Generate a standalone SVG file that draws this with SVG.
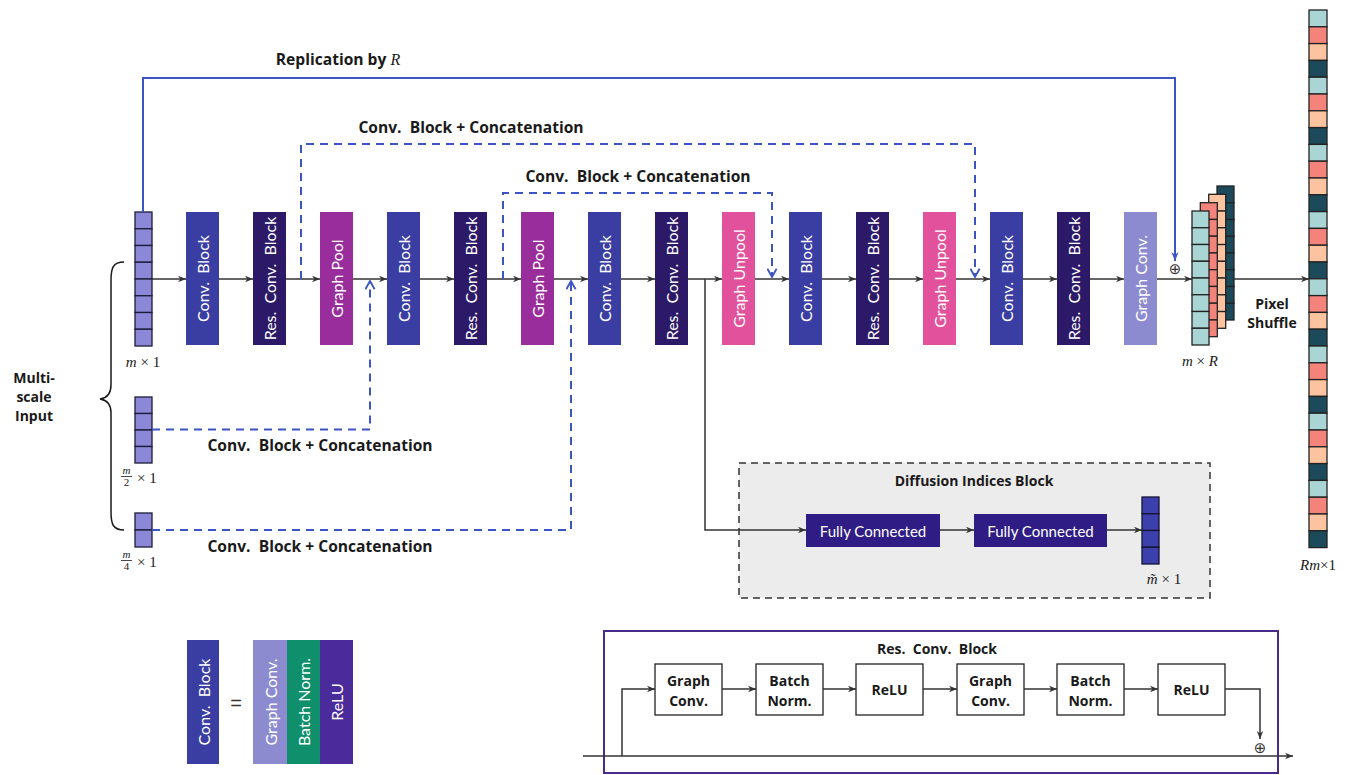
<svg xmlns="http://www.w3.org/2000/svg" width="1358" height="775" viewBox="0 0 1358 775">
<style>
.bt{font-family:Lato,"Liberation Sans",sans-serif;font-size:16px;fill:#fff;text-anchor:middle;dominant-baseline:central}
.ft{font-family:Lato,"Liberation Sans",sans-serif;font-size:15px;fill:#fff;text-anchor:middle;dominant-baseline:central}
.lb{font-family:"Open Sans","Liberation Sans",sans-serif;font-size:14px;font-weight:bold;fill:#1a1a1a;text-anchor:middle}
.cl{font-size:15.6px}
.bx{font-family:"Open Sans","Liberation Sans",sans-serif;font-size:14px;font-weight:bold;fill:#1a1a1a;text-anchor:middle}
.mt{font-family:"Liberation Serif",serif;font-size:15px;fill:#1a1a1a}
.mi{font-style:italic}
.fr{font-size:11px;text-anchor:middle}
.conv{fill:#3a3ea2}
.res{fill:#2c1a69}
.pool{fill:#9a2d9c}
.unpool{fill:#e2519b}
.gconv{fill:#8c8bd0}
.bn{fill:#0f8f6c}
.relu{fill:#4b2a9c}
.cin{fill:#8b88d8;stroke:#1c1c3a;stroke-width:1.3}
.cdi{fill:#3b40ac;stroke:#151530;stroke-width:1.3}
.c1{fill:#a9d5d4;stroke:#222;stroke-width:1.3}
.c2{fill:#f4837b;stroke:#222;stroke-width:1.3}
.c3{fill:#fcc3a1;stroke:#222;stroke-width:1.3}
.c4{fill:#1c4a5b;stroke:#222;stroke-width:1.3}
.ar{fill:none;stroke:#333;stroke-width:1.5;marker-end:url(#ah)}
.bl{fill:none;stroke:#3d55c4;stroke-width:2}
.bd{fill:none;stroke:#3d55c4;stroke-width:2;stroke-dasharray:8 6;marker-end:url(#bh)}
.sb{fill:#fff;stroke:#222;stroke-width:1.3}
</style>
<defs>
<marker id="ah" viewBox="0 0 10 10" refX="10" refY="5" markerWidth="8" markerHeight="8" orient="auto" markerUnits="userSpaceOnUse"><path d="M0,1 L10,5 L0,9 L3,5 z" fill="#333"/></marker>
<marker id="bh" viewBox="0 0 12 12" refX="11" refY="6" markerWidth="11" markerHeight="11" orient="auto" markerUnits="userSpaceOnUse"><path d="M2,1 L11,6 L2,11" fill="none" stroke="#3d55c4" stroke-width="2"/></marker>
<marker id="bs" viewBox="0 0 10 10" refX="10" refY="5" markerWidth="9" markerHeight="9" orient="auto" markerUnits="userSpaceOnUse"><path d="M0,1 L10,5 L0,9 L3,5 z" fill="#3d55c4"/></marker>
</defs>
<rect width="1358" height="775" fill="#fff"/>

<!-- inputs -->
<g id="input-m">
<rect class="cin" x="135" y="212" width="17" height="16.75"/><rect class="cin" x="135" y="228.75" width="17" height="16.75"/><rect class="cin" x="135" y="245.5" width="17" height="16.75"/><rect class="cin" x="135" y="262.25" width="17" height="16.75"/><rect class="cin" x="135" y="279" width="17" height="16.75"/><rect class="cin" x="135" y="295.75" width="17" height="16.75"/><rect class="cin" x="135" y="312.5" width="17" height="16.75"/><rect class="cin" x="135" y="329.25" width="17" height="16.75"/>
<text class="mt" x="143" y="367" text-anchor="middle"><tspan class="mi">m</tspan> × 1</text>
</g>
<g id="input-m2">
<rect class="cin" x="135" y="397" width="17" height="16.5"/><rect class="cin" x="135" y="413.5" width="17" height="16.5"/><rect class="cin" x="135" y="430" width="17" height="16.5"/><rect class="cin" x="135" y="446.5" width="17" height="16.5"/>
<line x1="121" y1="476.5" x2="132" y2="476.5" stroke="#1a1a1a" stroke-width="0.8"/>
<text class="mt"><tspan class="mi fr" x="126.5" y="474">m</tspan><tspan class="fr" x="126.5" y="486">2</tspan><tspan x="137" y="483">× 1</tspan></text>
</g>
<g id="input-m4">
<rect class="cin" x="135" y="513" width="17" height="17"/><rect class="cin" x="135" y="530" width="17" height="17"/>
<line x1="121" y1="560.5" x2="132" y2="560.5" stroke="#1a1a1a" stroke-width="0.8"/>
<text class="mt"><tspan class="mi fr" x="126.5" y="558">m</tspan><tspan class="fr" x="126.5" y="570">4</tspan><tspan x="137" y="567">× 1</tspan></text>
</g>
<g id="brace">
<path d="M124,262 C113,262 111,268 111,280 L111,385 C111,394 107,398 100,399 C107,400 111,404 111,413 L111,512 C111,524 113,530 124,530" fill="none" stroke="#1a1a1a" stroke-width="1.5"/>
<text class="lb" x="34" y="383">Multi-</text>
<text class="lb" x="34" y="402">scale</text>
<text class="lb" x="34" y="421">Input</text>
</g>

<!-- main blocks -->
<g id="b1"><rect class="conv" x="186" y="212" width="33" height="133"/><text class="bt" transform="translate(202.5,278.5) rotate(-90)">Conv.&#160; Block</text></g>
<g id="b2"><rect class="res" x="253" y="212" width="33" height="133"/><text class="bt" transform="translate(269.5,278.5) rotate(-90)">Res.&#160; Conv.&#160; Block</text></g>
<g id="b3"><rect class="pool" x="320" y="212" width="33" height="133"/><text class="bt" transform="translate(336.5,278.5) rotate(-90)">Graph Pool</text></g>
<g id="b4"><rect class="conv" x="387" y="212" width="33" height="133"/><text class="bt" transform="translate(403.5,278.5) rotate(-90)">Conv.&#160; Block</text></g>
<g id="b5"><rect class="res" x="454" y="212" width="33" height="133"/><text class="bt" transform="translate(470.5,278.5) rotate(-90)">Res.&#160; Conv.&#160; Block</text></g>
<g id="b6"><rect class="pool" x="521" y="212" width="33" height="133"/><text class="bt" transform="translate(537.5,278.5) rotate(-90)">Graph Pool</text></g>
<g id="b7"><rect class="conv" x="588" y="212" width="33" height="133"/><text class="bt" transform="translate(604.5,278.5) rotate(-90)">Conv.&#160; Block</text></g>
<g id="b8"><rect class="res" x="655" y="212" width="33" height="133"/><text class="bt" transform="translate(671.5,278.5) rotate(-90)">Res.&#160; Conv.&#160; Block</text></g>
<g id="b9"><rect class="unpool" x="722" y="212" width="33" height="133"/><text class="bt" transform="translate(738.5,278.5) rotate(-90)">Graph Unpool</text></g>
<g id="b10"><rect class="conv" x="789" y="212" width="33" height="133"/><text class="bt" transform="translate(805.5,278.5) rotate(-90)">Conv.&#160; Block</text></g>
<g id="b11"><rect class="res" x="856" y="212" width="33" height="133"/><text class="bt" transform="translate(872.5,278.5) rotate(-90)">Res.&#160; Conv.&#160; Block</text></g>
<g id="b12"><rect class="unpool" x="923" y="212" width="33" height="133"/><text class="bt" transform="translate(939.5,278.5) rotate(-90)">Graph Unpool</text></g>
<g id="b13"><rect class="conv" x="990" y="212" width="33" height="133"/><text class="bt" transform="translate(1006.5,278.5) rotate(-90)">Conv.&#160; Block</text></g>
<g id="b14"><rect class="res" x="1057" y="212" width="33" height="133"/><text class="bt" transform="translate(1073.5,278.5) rotate(-90)">Res.&#160; Conv.&#160; Block</text></g>
<g id="b15"><rect class="gconv" x="1124" y="212" width="33" height="133"/><text class="bt" transform="translate(1140.5,278.5) rotate(-90)">Graph Conv.</text></g>

<!-- output stack m x R -->
<g id="stack">
<g transform="translate(25,-25)"><rect class="c4" x="1192" y="211" width="17" height="16.75"/><rect class="c4" x="1192" y="227.75" width="17" height="16.75"/><rect class="c4" x="1192" y="244.5" width="17" height="16.75"/><rect class="c4" x="1192" y="261.25" width="17" height="16.75"/><rect class="c4" x="1192" y="278" width="17" height="16.75"/><rect class="c4" x="1192" y="294.75" width="17" height="16.75"/><rect class="c4" x="1192" y="311.5" width="17" height="16.75"/><rect class="c4" x="1192" y="328.25" width="17" height="16.75"/></g>
<g transform="translate(16.7,-16.7)"><rect class="c3" x="1192" y="211" width="17" height="16.75"/><rect class="c3" x="1192" y="227.75" width="17" height="16.75"/><rect class="c3" x="1192" y="244.5" width="17" height="16.75"/><rect class="c3" x="1192" y="261.25" width="17" height="16.75"/><rect class="c3" x="1192" y="278" width="17" height="16.75"/><rect class="c3" x="1192" y="294.75" width="17" height="16.75"/><rect class="c3" x="1192" y="311.5" width="17" height="16.75"/><rect class="c3" x="1192" y="328.25" width="17" height="16.75"/></g>
<g transform="translate(8.3,-8.3)"><rect class="c2" x="1192" y="211" width="17" height="16.75"/><rect class="c2" x="1192" y="227.75" width="17" height="16.75"/><rect class="c2" x="1192" y="244.5" width="17" height="16.75"/><rect class="c2" x="1192" y="261.25" width="17" height="16.75"/><rect class="c2" x="1192" y="278" width="17" height="16.75"/><rect class="c2" x="1192" y="294.75" width="17" height="16.75"/><rect class="c2" x="1192" y="311.5" width="17" height="16.75"/><rect class="c2" x="1192" y="328.25" width="17" height="16.75"/></g>
<g><rect class="c1" x="1192" y="211" width="17" height="16.75"/><rect class="c1" x="1192" y="227.75" width="17" height="16.75"/><rect class="c1" x="1192" y="244.5" width="17" height="16.75"/><rect class="c1" x="1192" y="261.25" width="17" height="16.75"/><rect class="c1" x="1192" y="278" width="17" height="16.75"/><rect class="c1" x="1192" y="294.75" width="17" height="16.75"/><rect class="c1" x="1192" y="311.5" width="17" height="16.75"/><rect class="c1" x="1192" y="328.25" width="17" height="16.75"/></g>
<text class="mt" x="1200" y="366" text-anchor="middle"><tspan class="mi">m</tspan> × <tspan class="mi">R</tspan></text>
</g>

<!-- output column Rm x 1 -->
<g id="output">
<rect class="c1" x="1309" y="10" width="18" height="16.8"/><rect class="c2" x="1309" y="26.8" width="18" height="16.8"/><rect class="c3" x="1309" y="43.6" width="18" height="16.8"/><rect class="c4" x="1309" y="60.4" width="18" height="16.8"/>
<rect class="c1" x="1309" y="77.2" width="18" height="16.8"/><rect class="c2" x="1309" y="94" width="18" height="16.8"/><rect class="c3" x="1309" y="110.8" width="18" height="16.8"/><rect class="c4" x="1309" y="127.6" width="18" height="16.8"/>
<rect class="c1" x="1309" y="144.4" width="18" height="16.8"/><rect class="c2" x="1309" y="161.2" width="18" height="16.8"/><rect class="c3" x="1309" y="178" width="18" height="16.8"/><rect class="c4" x="1309" y="194.8" width="18" height="16.8"/>
<rect class="c1" x="1309" y="211.6" width="18" height="16.8"/><rect class="c2" x="1309" y="228.4" width="18" height="16.8"/><rect class="c3" x="1309" y="245.2" width="18" height="16.8"/><rect class="c4" x="1309" y="262" width="18" height="16.8"/>
<rect class="c1" x="1309" y="278.8" width="18" height="16.8"/><rect class="c2" x="1309" y="295.6" width="18" height="16.8"/><rect class="c3" x="1309" y="312.4" width="18" height="16.8"/><rect class="c4" x="1309" y="329.2" width="18" height="16.8"/>
<rect class="c1" x="1309" y="346" width="18" height="16.8"/><rect class="c2" x="1309" y="362.8" width="18" height="16.8"/><rect class="c3" x="1309" y="379.6" width="18" height="16.8"/><rect class="c4" x="1309" y="396.4" width="18" height="16.8"/>
<rect class="c1" x="1309" y="413.2" width="18" height="16.8"/><rect class="c2" x="1309" y="430" width="18" height="16.8"/><rect class="c3" x="1309" y="446.8" width="18" height="16.8"/><rect class="c4" x="1309" y="463.6" width="18" height="16.8"/>
<rect class="c1" x="1309" y="480.4" width="18" height="16.8"/><rect class="c2" x="1309" y="497.2" width="18" height="16.8"/><rect class="c3" x="1309" y="514" width="18" height="16.8"/><rect class="c4" x="1309" y="530.8" width="18" height="16.8"/>
<text class="mt" x="1318" y="570" text-anchor="middle"><tspan class="mi">Rm</tspan>×1</text>
</g>
<g id="pixel-shuffle-label">
<text class="lb" x="1272" y="309">Pixel</text>
<text class="lb" x="1272" y="328">Shuffle</text>
</g>

<!-- diffusion block -->
<g id="diffusion">
<rect x="739" y="463" width="471" height="135" fill="#ececec" stroke="#333" stroke-width="1.5" stroke-dasharray="7 5"/>
<text class="lb" x="974" y="486" font-size="15">Diffusion Indices Block</text>
</g>
<g id="fc1"><rect x="806" y="514" width="134" height="33" fill="#2f1c84"/><text class="ft" x="873" y="530.5">Fully Connected</text></g>
<g id="fc2"><rect x="974" y="514" width="133" height="33" fill="#2f1c84"/><text class="ft" x="1040.5" y="530.5">Fully Connected</text></g>
<g id="diff-out">
<rect class="cdi" x="1142" y="497" width="17" height="16.75"/><rect class="cdi" x="1142" y="513.75" width="17" height="16.75"/><rect class="cdi" x="1142" y="530.5" width="17" height="16.75"/><rect class="cdi" x="1142" y="547.25" width="17" height="16.75"/>
<text class="mt" x="1164" y="584" text-anchor="middle"><tspan class="mi">m̃</tspan> × 1</text>
</g>

<!-- labels -->
<g id="labels">
<text class="lb cl" x="338" y="65">Replication by <tspan font-family="Liberation Serif,serif" font-style="italic" font-weight="normal" font-size="16">R</tspan></text>
<text class="lb cl" x="471" y="133">Conv.&#160; Block + Concatenation</text>
<text class="lb cl" x="638" y="182">Conv.&#160; Block + Concatenation</text>
<text class="lb cl" x="320" y="451">Conv.&#160; Block + Concatenation</text>
<text class="lb cl" x="320" y="552">Conv.&#160; Block + Concatenation</text>
</g>

<!-- connectors -->
<g id="connectors">
<path class="ar" d="M152,279 H186"/>
<path class="ar" d="M219,279 H253"/>
<path class="ar" d="M286,279 H320"/>
<path class="ar" d="M353,279 H387"/>
<path class="ar" d="M420,279 H454"/>
<path class="ar" d="M487,279 H521"/>
<path class="ar" d="M554,279 H588"/>
<path class="ar" d="M621,279 H655"/>
<path class="ar" d="M688,279 H722"/>
<path class="ar" d="M755,279 H789"/>
<path class="ar" d="M822,279 H856"/>
<path class="ar" d="M889,279 H923"/>
<path class="ar" d="M956,279 H990"/>
<path class="ar" d="M1023,279 H1057"/>
<path class="ar" d="M1090,279 H1124"/>
<path class="ar" d="M1157,279 H1192"/>
<path class="ar" d="M1234,279 H1309"/>
<path class="bl" d="M143,212 V78 H1175 V261" marker-end="url(#bs)"/>
<text x="1175" y="274" font-family="DejaVu Sans,sans-serif" font-size="15" text-anchor="middle" fill="#333">⊕</text>
<path class="bd" d="M301,279 V144 H975 V277"/>
<path class="bd" d="M503,279 V193 H772 V277"/>
<path class="bd" d="M152,429.5 H370 V281"/>
<path class="bd" d="M152,530 H571 V281"/>
<path class="ar" d="M705,279 V530 H806"/>
<path class="ar" d="M940,530 H974"/>
<path class="ar" d="M1107,530 H1142"/>
</g>

<!-- legend -->
<g id="legend">
<rect class="conv" x="187" y="640" width="32" height="124"/><text class="bt" transform="translate(203,702) rotate(-90)">Conv.&#160; Block</text>
<text x="236" y="710" font-family="Liberation Sans,sans-serif" font-size="20" fill="#333" text-anchor="middle">=</text>
<rect class="gconv" x="253" y="640" width="34" height="124"/><text class="bt" transform="translate(270,702) rotate(-90)">Graph Conv.</text>
<rect class="bn" x="287" y="640" width="33" height="124"/><text class="bt" transform="translate(303.5,702) rotate(-90)">Batch Norm.</text>
<rect class="relu" x="320" y="640" width="33" height="124"/><text class="bt" transform="translate(336.5,702) rotate(-90)">ReLU</text>
</g>

<!-- res conv block detail -->
<g id="res-detail">
<rect x="604" y="631" width="674" height="142" fill="#fff" stroke="#4a2b8c" stroke-width="2"/>
<text class="bx" x="937" y="654" font-weight="normal">Res.&#160; Conv.&#160; Block</text>
</g>
<g id="rd1"><rect class="sb" x="655" y="664" width="67" height="51"/><text class="bx" x="688.5" y="686">Graph</text><text class="bx" x="688.5" y="706">Conv.</text></g>
<g id="rd2"><rect class="sb" x="756" y="664" width="67" height="51"/><text class="bx" x="789.5" y="686">Batch</text><text class="bx" x="789.5" y="706">Norm.</text></g>
<g id="rd3"><rect class="sb" x="856" y="664" width="67" height="51"/><text class="bx" x="889.5" y="695">ReLU</text></g>
<g id="rd4"><rect class="sb" x="957" y="664" width="67" height="51"/><text class="bx" x="990.5" y="686">Graph</text><text class="bx" x="990.5" y="706">Conv.</text></g>
<g id="rd5"><rect class="sb" x="1057" y="664" width="67" height="51"/><text class="bx" x="1090.5" y="686">Batch</text><text class="bx" x="1090.5" y="706">Norm.</text></g>
<g id="rd6"><rect class="sb" x="1158" y="664" width="67" height="51"/><text class="bx" x="1191.5" y="695">ReLU</text></g>
<g id="res-connectors">
<path class="ar" d="M583,756 H1293"/>
<path class="ar" d="M622,756 V689 H655"/>
<path class="ar" d="M722,689 H756"/>
<path class="ar" d="M823,689 H856"/>
<path class="ar" d="M923,689 H957"/>
<path class="ar" d="M1024,689 H1057"/>
<path class="ar" d="M1124,689 H1158"/>
<path class="ar" d="M1225,689 H1260 V739"/>
<text x="1260" y="753" font-family="DejaVu Sans,sans-serif" font-size="15" text-anchor="middle" fill="#333">⊕</text>
</g>
</svg>
